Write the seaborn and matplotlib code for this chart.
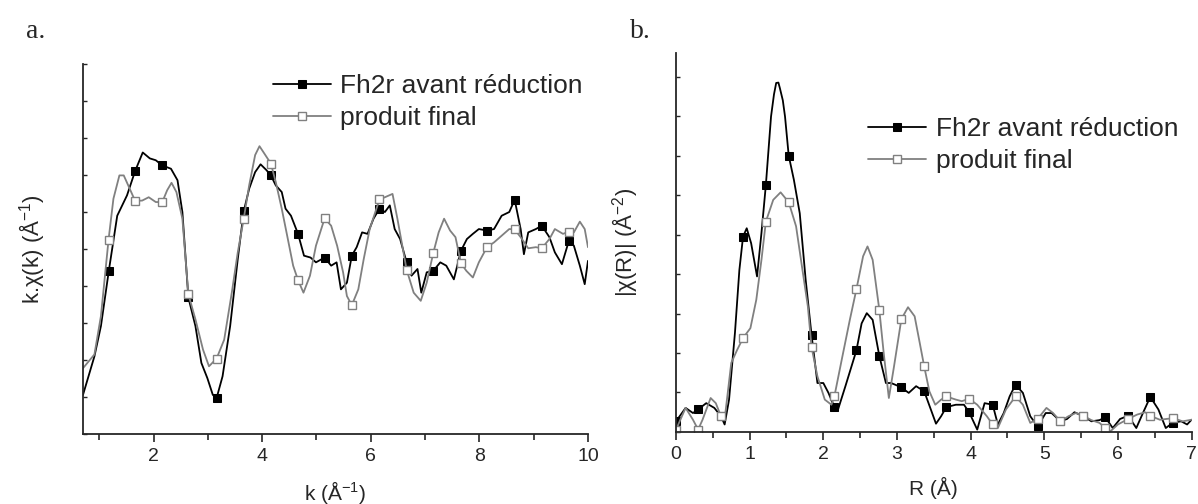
import matplotlib
matplotlib.use("Agg")
import matplotlib.pyplot as plt
import numpy as np
import seaborn as sns
from matplotlib.ticker import MultipleLocator

# ---- panel a: k.chi(k) ----
k_black = [0.70, 0.91, 1.03, 1.175, 1.33, 1.51, 1.66, 1.80, 1.93, 2.04, 2.16, 2.32, 2.44, 2.53,
           2.64, 2.77, 2.88, 2.99, 3.09, 3.16, 3.27, 3.41, 3.55, 3.66, 3.76, 3.87, 3.97, 4.08,
           4.16, 4.25, 4.36, 4.43, 4.53, 4.66, 4.77, 4.89, 4.99, 5.15, 5.27, 5.37, 5.45, 5.56,
           5.65, 5.74, 5.84, 5.94, 6.05, 6.16, 6.26, 6.35, 6.44, 6.54, 6.66, 6.75, 6.86, 6.93,
           7.03, 7.15, 7.28, 7.39, 7.53, 7.66, 7.77, 7.88, 7.99, 8.14, 8.27, 8.41, 8.55, 8.65,
           8.76, 8.82, 8.90, 9.04, 9.15, 9.29, 9.39, 9.52, 9.65, 9.74, 9.85, 9.94, 10.0]
chi_black = [1.06, 2.10, 2.92, 4.41, 5.90, 6.45, 7.11, 7.61, 7.45, 7.40, 7.26, 7.17, 6.86, 6.00,
             3.69, 2.92, 1.92, 1.51, 1.06, 0.97, 1.56, 2.92, 4.73, 6.02, 6.63, 7.08, 7.29, 7.13,
             6.99, 6.72, 6.54, 6.09, 5.90, 5.41, 4.82, 4.77, 4.64, 4.77, 4.55, 4.64, 3.91, 4.09,
             4.82, 5.05, 5.45, 5.41, 5.82, 6.09, 6.00, 6.18, 5.54, 5.27, 4.64, 4.28, 4.46, 3.82,
             4.37, 4.41, 4.64, 4.55, 4.18, 4.95, 5.27, 5.41, 5.54, 5.50, 5.54, 5.90, 6.00, 6.33,
             5.54, 4.86, 5.45, 5.54, 5.63, 5.32, 4.91, 4.59, 5.23, 5.09, 4.55, 4.05, 4.68]

k_gray = [0.70, 0.91, 1.03, 1.17, 1.26, 1.37, 1.45, 1.56, 1.66, 1.79, 1.91, 2.04, 2.16, 2.25,
          2.33, 2.42, 2.53, 2.64, 2.77, 2.91, 3.02, 3.16, 3.30, 3.44, 3.55, 3.66, 3.76, 3.87,
          3.95, 4.04, 4.16, 4.25, 4.36, 4.46, 4.57, 4.66, 4.76, 4.88, 4.99, 5.15, 5.27, 5.38,
          5.49, 5.56, 5.65, 5.77, 5.87, 5.98, 6.16, 6.26, 6.40, 6.49, 6.58, 6.66, 6.79, 6.92,
          7.03, 7.15, 7.25, 7.35, 7.46, 7.56, 7.66, 7.76, 7.88, 7.99, 8.14, 8.27, 8.41, 8.55,
          8.65, 8.76, 8.90, 9.04, 9.15, 9.29, 9.39, 9.54, 9.65, 9.74, 9.85, 9.94, 10.0]
chi_gray = [1.78, 2.15, 3.19, 5.25, 6.36, 6.99, 6.99, 6.63, 6.30, 6.31, 6.40, 6.27, 6.27, 6.59,
            6.79, 6.54, 5.82, 3.78, 3.10, 2.28, 1.83, 2.04, 2.55, 3.82, 4.91, 5.82, 6.72, 7.54,
            7.78, 7.58, 7.31, 6.81, 6.09, 5.36, 4.55, 4.16, 3.82, 4.28, 5.09, 5.83, 5.63, 5.09,
            4.37, 3.73, 3.48, 3.91, 4.73, 5.54, 6.34, 6.40, 6.49, 5.82, 5.09, 4.44, 3.82, 3.60,
            4.09, 4.89, 5.45, 5.82, 5.50, 5.32, 4.62, 4.41, 4.23, 4.64, 5.05, 5.18, 5.36, 5.54,
            5.53, 5.32, 5.02, 5.05, 5.02, 5.27, 5.54, 5.41, 5.47, 5.45, 5.74, 5.54, 5.05]

marks_k = [1.17, 1.66, 2.16, 2.64, 3.16, 3.66, 4.16, 4.66, 5.15, 5.65, 6.16, 6.66, 7.15,
           7.66, 8.14, 8.65, 9.15, 9.65]

# ---- panel b: |chi(R)| ----
r_black = [0.00, 0.13, 0.23, 0.30, 0.41, 0.52, 0.61, 0.66, 0.72, 0.80, 0.86, 0.91, 0.96, 1.02,
           1.10, 1.16, 1.22, 1.29, 1.33, 1.36, 1.39, 1.41, 1.45, 1.48, 1.53, 1.60, 1.68, 1.76,
           1.84, 1.92, 2.00, 2.07, 2.15, 2.20, 2.30, 2.45, 2.52, 2.59, 2.67, 2.76, 2.85, 2.92,
           3.05, 3.16, 3.26, 3.37, 3.46, 3.53, 3.60, 3.67, 3.80, 3.91, 3.98, 4.09, 4.19, 4.30,
           4.37, 4.45, 4.53, 4.61, 4.71, 4.81, 4.91, 5.02, 5.10, 5.22, 5.31, 5.41, 5.53, 5.64,
           5.75, 5.83, 5.93, 6.03, 6.14, 6.25, 6.34, 6.44, 6.55, 6.65, 6.75, 6.86, 6.94, 7.00]
mag_black = [0.27, 0.61, 0.48, 0.57, 0.73, 0.61, 0.40, 0.19, 0.82, 2.51, 4.10, 4.95, 5.16, 4.78,
             3.94, 5.04, 6.26, 7.99, 8.55, 8.84, 8.85, 8.71, 8.40, 7.99, 7.00, 6.39, 5.54, 3.86,
             2.46, 1.24, 1.24, 0.99, 0.63, 0.57, 1.16, 2.07, 2.75, 3.01, 2.84, 1.93, 1.24, 1.24,
             1.14, 0.99, 1.16, 1.03, 0.57, 0.21, 0.40, 0.63, 0.69, 0.69, 0.50, 0.06, 0.73, 0.69,
             0.19, 0.48, 0.90, 1.20, 0.99, 0.40, 0.14, 0.48, 0.48, 0.27, 0.33, 0.50, 0.40, 0.27,
             0.30, 0.37, 0.10, 0.33, 0.41, 0.10, 0.48, 0.89, 0.57, 0.10, 0.24, 0.27, 0.19, 0.31]

r_gray = [0.00, 0.13, 0.23, 0.30, 0.36, 0.47, 0.54, 0.61, 0.67, 0.75, 0.83, 0.91, 1.01, 1.09,
          1.16, 1.22, 1.32, 1.42, 1.53, 1.63, 1.71, 1.79, 1.84, 1.92, 2.02, 2.11, 2.15, 2.25,
          2.36, 2.45, 2.54, 2.60, 2.67, 2.76, 2.82, 2.89, 2.96, 3.06, 3.15, 3.24, 3.31, 3.37,
          3.44, 3.52, 3.60, 3.67, 3.80, 3.88, 3.98, 4.09, 4.22, 4.30, 4.37, 4.48, 4.61, 4.71,
          4.81, 4.91, 5.03, 5.12, 5.22, 5.33, 5.43, 5.53, 5.64, 5.75, 5.83, 5.90, 6.00, 6.14,
          6.26, 6.37, 6.44, 6.57, 6.75, 6.88, 7.00]
mag_gray = [0.06, 0.61, 0.31, 0.06, 0.31, 0.86, 0.73, 0.40, 0.48, 1.75, 2.08, 2.38, 2.63, 3.35,
            4.36, 5.33, 5.88, 6.07, 5.82, 5.21, 4.19, 3.18, 2.15, 1.41, 0.82, 0.69, 0.90, 1.83,
            2.84, 3.62, 4.45, 4.70, 4.36, 3.10, 2.00, 0.86, 1.66, 2.86, 3.16, 2.93, 2.25, 1.66,
            1.03, 0.69, 0.82, 0.90, 0.82, 0.78, 0.84, 0.69, 0.40, 0.19, 0.10, 0.57, 0.90, 0.69,
            0.23, 0.33, 0.61, 0.48, 0.27, 0.40, 0.48, 0.41, 0.30, 0.23, 0.10, 0.02, 0.19, 0.33,
            0.44, 0.50, 0.41, 0.31, 0.35, 0.27, 0.31]

marks_r = [0.00, 0.30, 0.61, 0.91, 1.22, 1.53, 1.84, 2.15, 2.45, 2.76, 3.06, 3.37, 3.67,
           3.98, 4.30, 4.61, 4.91, 5.22, 5.53, 5.83, 6.14, 6.44, 6.75]

labels = ["Fh2r avant réduction", "produit final"]

sns.set_style("ticks")
plt.rcParams["font.family"] = ["Liberation Sans", "DejaVu Sans"]
plt.rcParams["mathtext.fontset"] = "custom"
plt.rcParams["mathtext.rm"] = "Liberation Sans"
plt.rcParams["mathtext.it"] = "Liberation Sans:italic"


def nearest(xs, marks):
    xs = np.asarray(xs)
    return [int(np.argmin(np.abs(xs - m))) for m in marks]


def draw(ax, xb, yb, xg, yg, marks):
    sns.lineplot(x=xb, y=yb, ax=ax, sort=False, estimator=None, color="black", lw=1.3,
                 marker="s", ms=5.5, mfc="black", mec="black", markevery=nearest(xb, marks),
                 label=labels[0])
    sns.lineplot(x=xg, y=yg, ax=ax, sort=False, estimator=None, color="#808080", lw=1.3,
                 marker="s", ms=5.5, mfc="white", mec="#808080", mew=1.0,
                 markevery=nearest(xg, marks), label=labels[1])
    sns.despine(ax=ax)
    for s in ("left", "bottom"):
        ax.spines[s].set_linewidth(1.3)
    ax.tick_params(axis="x", which="major", direction="out", length=6, width=1.2, labelsize=14,
                   pad=4)
    ax.tick_params(axis="x", which="minor", direction="out", length=4, width=1.2)
    ax.tick_params(axis="y", which="major", direction="in", length=3, width=1.0, labelleft=False)
    ax.yaxis.set_major_locator(MultipleLocator(1))


fig = plt.figure(figsize=(11.98, 5.04), dpi=100)
ax1 = fig.add_axes([0.0693, 0.1389, 0.4215, 0.734])
ax2 = fig.add_axes([0.5643, 0.1429, 0.4303, 0.752])

legend_kw = dict(loc="upper left", frameon=False, fontsize=19, handlelength=2.2,
                 handletextpad=0.35, borderpad=0, borderaxespad=0, labelspacing=0.3)

draw(ax1, k_black, chi_black, k_gray, chi_gray, marks_k)
ax1.set_xlim(0.7, 10)
ax1.set_ylim(0, 10)
ax1.xaxis.set_major_locator(MultipleLocator(2))
ax1.xaxis.set_minor_locator(MultipleLocator(1))
ax1.set_xlabel("k (Å$^{-1}$)", fontsize=15, labelpad=10)
ax1.set_ylabel("k.χ(k) (Å$^{-1}$)", fontsize=16, labelpad=26)
ax1.legend(bbox_to_anchor=(0.376, 0.973), **legend_kw)

draw(ax2, r_black, mag_black, r_gray, mag_gray, marks_r)
ax2.set_xlim(0, 7)
ax2.set_ylim(0, 9.6)
ax2.xaxis.set_major_locator(MultipleLocator(1))
ax2.xaxis.set_minor_locator(MultipleLocator(0.5))
ax2.set_xlabel("R (Å)", fontsize=15, labelpad=10)
ax2.set_ylabel("|χ(R)| (Å$^{-2}$)", fontsize=16, labelpad=26)
ax2.legend(bbox_to_anchor=(0.373, 0.830), **legend_kw)

fig.text(0.022, 0.925, "a.", fontsize=20, family="Liberation Serif")
fig.text(0.526, 0.925, "b.", fontsize=20, family="Liberation Serif")

fig.savefig("out.png", dpi=100)
